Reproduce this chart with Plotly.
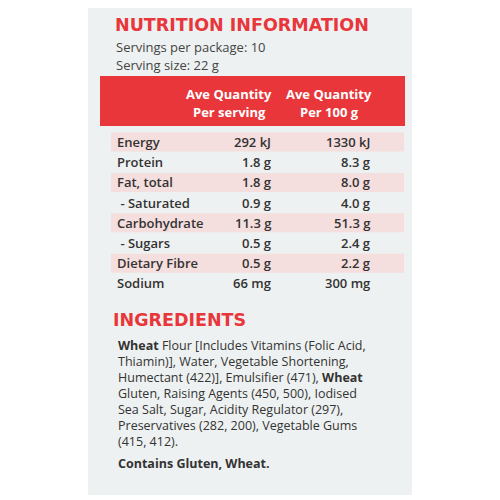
import plotly.graph_objects as go

nutrients = ['Energy', 'Protein', 'Fat, total', ' - Saturated', 'Carbohydrate', ' - Sugars', 'Dietary Fibre', 'Sodium']
per_serving = ['292 kJ', '1.8 g', '1.8 g', '0.9 g', '11.3 g', '0.5 g', '0.5 g', '66 mg']
per_100g = ['1330 kJ', '8.3 g', '8.0 g', '4.0 g', '51.3 g', '2.4 g', '2.2 g', '300 mg']
shaded = [True, False, True, False, True, False, True, False]
ingredient_lines = [
    '<b>Wheat</b> Flour [Includes Vitamins (Folic Acid,',
    'Thiamin)], Water, Vegetable Shortening,',
    'Humectant (422)], Emulsifier (471), <b>Wheat</b>',
    'Gluten, Raising Agents (450, 500), Iodised',
    'Sea Salt, Sugar, Acidity Regulator (297),',
    'Preservatives (282, 200), Vegetable Gums',
    '(415, 412).',
]

RED = '#e8363b'
DARK = '#333333'
FONT = 'Open Sans'
OFF = 8  # page body margin


def px(x):
    return (x - OFF) / 500


def py(y):
    return 1 - (y - OFF) / 500


fig = go.Figure()
shapes = [
    dict(type='rect', xref='paper', yref='paper', x0=px(88), x1=px(412), y0=py(495), y1=py(5),
         fillcolor='#eef1f1', line_width=0, layer='below'),
    dict(type='rect', xref='paper', yref='paper', x0=px(100), x1=px(405), y0=py(126), y1=py(76),
         fillcolor=RED, line_width=0, layer='below'),
]
ann = []


def text(x, y, s, size=13, color=DARK, anchor='left', family=FONT, weight=600):
    ann.append(dict(x=px(x), y=py(y), xref='paper', yref='paper', text=s, showarrow=False,
                    xanchor=anchor, yanchor='middle',
                    font=dict(size=size, color=color, family=family, weight=weight)))


text(113, 25, '<b>NUTRITION INFORMATION</b>', 17.5, RED, family='DejaVu Sans')
text(114, 47, 'Servings per package: 10', 13, '#444444', weight=400)
text(114, 65, 'Serving size: 22 g', 13, '#444444', weight=400)
text(229, 94, '<b>Ave Quantity</b>', 13, 'white', 'center')
text(229, 112, '<b>Per serving</b>', 13, 'white', 'center')
text(329, 94, '<b>Ave Quantity</b>', 13, 'white', 'center')
text(329, 112, '<b>Per 100 g</b>', 13, 'white', 'center')

for i, name in enumerate(nutrients):
    yc = 142 + i * 20.2
    if shaded[i]:
        shapes.append(dict(type='rect', xref='paper', yref='paper', x0=px(111), x1=px(404),
                           y0=py(yc + 9.5), y1=py(yc - 9.5), fillcolor='#f5dede', line_width=0, layer='below'))
    text(115, yc, name)
    text(273, yc, per_serving[i], anchor='right')
    text(372, yc, per_100g[i], anchor='right')

text(111, 320, '<b>INGREDIENTS</b>', 17.5, RED, family='DejaVu Sans')
for i, line in enumerate(ingredient_lines):
    text(116, 345 + i * 16, line, 12.5, weight=400)
text(116, 463, '<b>Contains Gluten, Wheat.</b>', 12.5)

fig.update_layout(width=500, height=500, margin=dict(l=0, r=0, t=0, b=0),
                  paper_bgcolor='white', plot_bgcolor='white',
                  xaxis=dict(visible=False), yaxis=dict(visible=False),
                  shapes=shapes, annotations=ann, showlegend=False)
fig.write_html('out.html')
